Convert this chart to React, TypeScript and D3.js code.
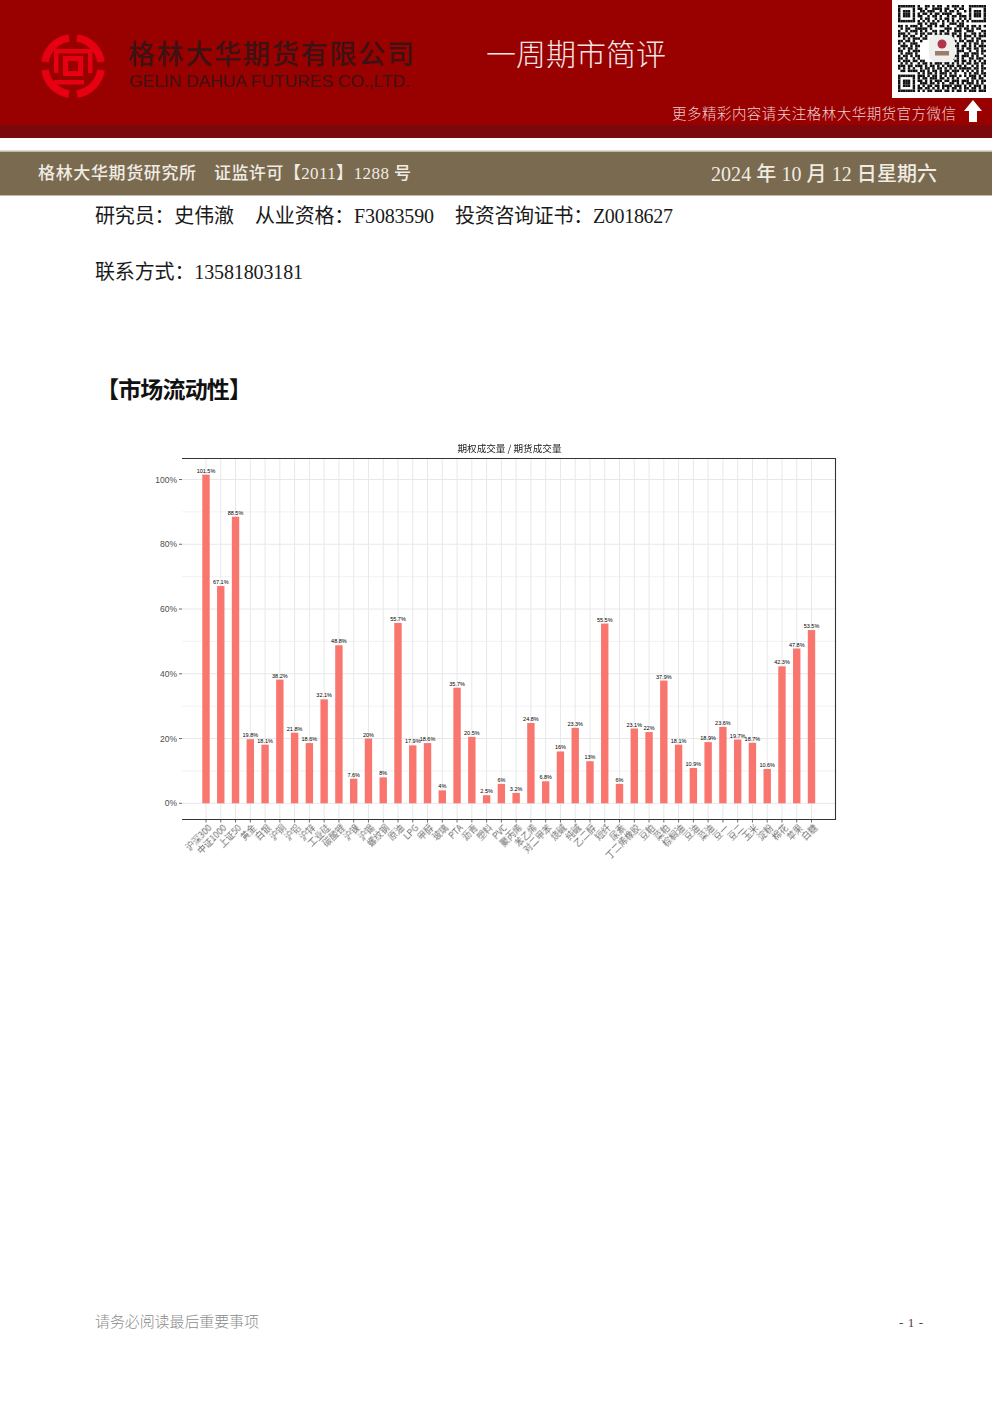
import React from "react";
import * as d3 from "d3";

const categories = ["沪深300","中证1000","上证50","黄金","白银","沪铜","沪铝","沪锌","工业硅","碳酸锂","沪镍","沪锡","螺纹钢","原油","LPG","甲醇","玻璃","PTA","沥青","塑料","PVC","聚丙烯","苯乙烯","对二甲苯","烧碱","纯碱","乙二醇","短纤","尿素","丁二烯橡胶","豆粕","菜粕","棕榈油","豆油","菜油","豆一","豆二","玉米","淀粉","棉花","苹果","白糖"];
const ratios = [101.5,67.1,88.5,19.8,18.1,38.2,21.8,18.6,32.1,48.8,7.6,20,8,55.7,17.9,18.6,4,35.7,20.5,2.5,6,3.2,24.8,6.8,16,23.3,13,55.5,6,23.1,22,37.9,18.1,10.9,18.9,23.6,19.7,18.7,10.6,42.3,47.8,53.5];
const yTicks = [0,20,40,60,80,100];
const yMinorTicks = [10,30,50,70,90];
const chartTitle = "期权成交量 / 期货成交量";
const qrRows = [
"#######.#..##.#.##..#.###.#..#######",
"#.....#.##.#..####.##..#.##..#.....#",
"#.###.#..##.###..#.#.##.#..#.#.###.#",
"#.###.#.#.##.#.##.####..##...#.###.#",
"#.###.#.##..#.##.#..#.##.###.#.###.#",
"#.....#..#.##..#.#.##.#..#.#.#.....#",
"#######.#.#.#.#.#.#.#.#.#.#.#.######",
"........##.#.###..#..###.##.........",
"##.#.###.#..##.#.##.#...###.#.##.#.#",
".#.##..#####.#.....###.#.#.##.#.##..",
"#..#.###.#.#..##.##.#..###..###...##",
"###.#..#.##.##.#.#.##.##.#.#..##.#.#",
"#.##.##..#.#...####.#.#.##.###.#.###",
"..#.#.###.##.....#..###..#.#..#.##..",
"##.##.#..#.......#.#..##.##.###.#.##",
"#.#..###.........#.##.#.#..#.#.##.#.",
".###.#.##.........#...###.##.#.#.###",
"#.#.##.#..........#.##..#.#.##.##.#.",
"##..#.###.........###.#.###..#..#.##",
".#.###.#..........#.###.#..##.###.#.",
"#.##.#.##.........#..#.##.###.#.#..#",
"##.#..#.#.........##.##.#.#..##.###.",
"#.###.##.##.....#.#.#..##.##.#.#.#.#",
".#.#.#..#.##.#.###.##.#.#.#.##.##.##",
"###.##.###.#.##.#.#.###.##.#..#.#.#.",
"#.#.#.#..#.##.#.##.#.#.#.#####.##.##",
".##.####.##.#.##.#.##.###.#.#.#.#.#.",
"........#.#.##.#.###.#.#...#.#.##.##",
"#######.###.#.##.#.#.###.#.#.###.#.#",
"#.....#.#.##.###.##.#.#.#...#.##.##.",
"#.###.#.##.#.#.###.##.###.###.#.#.##",
"#.###.#..###.##.#.#..##.#.#.###.#.#.",
"#.###.#.#.#.##.##.####.###.#.#.###.#",
"#.....#.##.##.#.#.#.#.##.#.##.##.#.#",
"#######.#.#.##.###.##.#.##.#.###.###",
];

const FRAME = { left: 182, right: 835.5, top: 458.5, bottom: 819.5 };
const serif = "'Liberation Serif','Noto Sans CJK SC',serif";
const cjk = "'Noto Sans CJK SC',sans-serif";
const sans = "'Liberation Sans','Noto Sans CJK SC',sans-serif";

function Logo() {
  const arc = d3.arc();
  const ring = [[8, 82], [98, 172], [188, 262], [278, 352]].map(([a, b]) =>
    arc({ innerRadius: 24.5, outerRadius: 32, startAngle: (a * Math.PI) / 180, endAngle: (b * Math.PI) / 180 } as any) as string);
  return (
    <g transform="translate(73,66)" fill="#e60012">
      {ring.map((d, i) => <path key={i} d={d} />)}
      <path fillRule="evenodd" d="M-10,-10H10V10H-10ZM-5,-5V5H5V-5Z" />
      <rect x="-16" y="-17" width="32" height="4.5" />
      <rect x="-19" y="-17" width="4.5" height="24" />
      <rect x="15" y="-17" width="4.5" height="24" />
      <rect x="-19" y="14" width="30" height="4.5" />
    </g>
  );
}

function QR() {
  const mx = 88 / 36;
  const my = 87 / 35;
  return (
    <g>
      <rect x="892" y="0" width="100" height="98" fill="#fff" />
      <g transform="translate(898,5)" fill="#111">
        {qrRows.flatMap((row, r) => row.split("").map((c, i) => c === "#" ?
          <rect key={`${r}-${i}`} x={i * mx} y={r * my} width={mx} height={my} /> : null))}
      </g>
      <rect x="929" y="35" width="26" height="27" rx="7" fill="#f1eeee" />
      <circle cx="942" cy="44" r="4.5" fill="#b0354a" />
      <rect x="935" y="51" width="14" height="4.5" fill="#9c7c6c" />
    </g>
  );
}

function Chart() {
  const x = d3.scaleBand<string>().domain(categories).range([FRAME.left, FRAME.right]).paddingInner(0.5).paddingOuter(1.375);
  const y = d3.scaleLinear().domain([0, 100]).range([803.3, 479.5]);
  const c = (n: string) => (x(n) as number) + x.bandwidth() / 2;
  return (
    <g>
      <defs>
        <filter id="soft" x="-5%" y="-5%" width="110%" height="110%"><feGaussianBlur stdDeviation="0.3" /></filter>
      </defs>
      <text x="509.5" y="451.5" fontSize="9.6" textAnchor="middle" fontFamily={cjk} fill="#222" filter="url(#soft)">{chartTitle}</text>
      {yMinorTicks.map(t => <line key={t} x1={FRAME.left} x2={FRAME.right} y1={y(t)} y2={y(t)} stroke="#efefef" strokeWidth="0.8" />)}
      {yTicks.map(t => <line key={t} x1={FRAME.left} x2={FRAME.right} y1={y(t)} y2={y(t)} stroke="#e8e8e8" strokeWidth="1" />)}
      {categories.map(n => <line key={n} x1={c(n)} x2={c(n)} y1={FRAME.top} y2={FRAME.bottom} stroke="#e8e8e8" strokeWidth="1" />)}
      {categories.map((n, i) => (
        <rect key={n} x={x(n)} y={y(ratios[i])} width={x.bandwidth()} height={y(0) - y(ratios[i])} fill="#f8766d" />
      ))}
      {categories.map((n, i) => (
        <text key={n} x={c(n)} y={y(ratios[i]) - 2} fontSize="5.5" textAnchor="middle" fontFamily={sans} fill="#000">{ratios[i]}%</text>
      ))}
      <path d={`M${FRAME.left},${FRAME.top}H${FRAME.right}V${FRAME.bottom}H${FRAME.left}`} fill="none" stroke="#333" strokeWidth="1.1" />
      {yTicks.map(t => (
        <g key={t}>
          <line x1={FRAME.left - 3} x2={FRAME.left} y1={y(t)} y2={y(t)} stroke="#444" strokeWidth="0.8" />
          <text x={FRAME.left - 5} y={y(t) + 3} fontSize="8.5" textAnchor="end" fontFamily={sans} fill="#4d4d4d">{t}%</text>
        </g>
      ))}
      {categories.map(n => (
        <g key={n}>
          <line x1={c(n)} x2={c(n)} y1={FRAME.bottom} y2={FRAME.bottom + 3} stroke="#444" strokeWidth="0.8" />
          <text transform={`translate(${c(n) + 6.5},${FRAME.bottom + 9}) rotate(-45)`} fontSize="8.8" textAnchor="end" fontFamily={cjk} fill="#6a6a6a" filter="url(#soft)">{n}</text>
        </g>
      ))}
    </g>
  );
}

export default function App() {
  return (
    <svg width={992} height={1403} viewBox="0 0 992 1403" style={{ position: "absolute", left: 0, top: 0, background: "#fff" }}>
      <rect x="0" y="0" width="992" height="125" fill="#990000" />
      <rect x="0" y="125" width="992" height="13" fill="#7b080d" />
      <rect x="0" y="150.5" width="992" height="1.5" fill="#c0b8a8" />
      <rect x="0" y="152" width="992" height="43" fill="#7a6a50" />
      <rect x="0" y="195" width="992" height="1" fill="#c0b8a8" />
      <Logo />
      <text x="128" y="64" fontSize="27" fontWeight="500" fontFamily={cjk} fill="#3d1212" textLength="286" lengthAdjust="spacing">格林大华期货有限公司</text>
      <text x="129" y="87" fontSize="16.5" fontFamily={sans} fill="#3d1212" textLength="281" lengthAdjust="spacingAndGlyphs">GELIN DAHUA FUTURES CO.,LTD.</text>
      <text x="486" y="65" fontSize="30" fontFamily={cjk} fontWeight="300" fill="#f3e6e6" textLength="180">一周期市简评</text>
      <QR />
      <text x="672" y="119" fontSize="14.5" fontFamily={cjk} fontWeight="300" fill="#eecfcf" textLength="284">更多精彩内容请关注格林大华期货官方微信</text>
      <path d="M973,100L982,111H977V122H969V111H964Z" fill="#fff" />
      <text x="38" y="179" fontSize="17" fontWeight="500" fontFamily={cjk} fill="#f0ece4" textLength="158">格林大华期货研究所</text>
      <text x="214" y="179" fontSize="17" fontWeight="500" fontFamily={serif} fill="#f0ece4" textLength="197">证监许可【2011】1288 号</text>
      <text x="711" y="181" fontSize="20" fontWeight="500" fontFamily={serif} fill="#f0ece4" textLength="226">2024 年 10 月 12 日星期六</text>
      <g fontSize="20" fontFamily={serif} fill="#1a1a1a">
        <text x="95" y="223" textLength="139">研究员：史伟澈</text>
        <text x="255" y="223" textLength="179">从业资格：F3083590</text>
        <text x="455" y="223" textLength="218">投资咨询证书：Z0018627</text>
        <text x="95" y="279" textLength="208">联系方式：13581803181</text>
      </g>
      <text x="96" y="398" fontSize="23" fontWeight="700" fontFamily={serif} fill="#111" textLength="156">【市场流动性】</text>
      <Chart />
      <text x="95" y="1327" fontSize="15" fontFamily={cjk} fontWeight="300" fill="#8c8c8c" textLength="164">请务必阅读最后重要事项</text>
      <text x="899" y="1327" fontSize="13" fontFamily={serif} fill="#444" textLength="24">- 1 -</text>
    </svg>
  );
}
